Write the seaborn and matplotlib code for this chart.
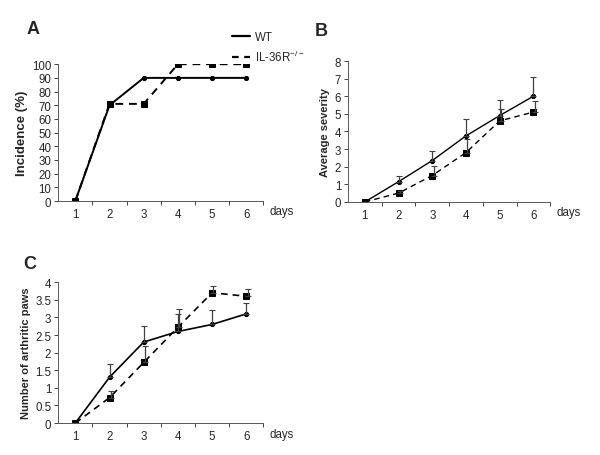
import numpy as np
import pandas as pd
import matplotlib
matplotlib.use('Agg')
import matplotlib.pyplot as plt
from matplotlib.lines import Line2D
import seaborn as sns

# Données
days = [1, 2, 3, 4, 5, 6]
day_labels = ['1', '2', '3', '4', '5', '6']

incidence_wt = [0, 70, 90, 90, 90, 90]
incidence_ko = [0, 71, 71, 100, 100, 100]

severity_wt = [0, 1.15, 2.35, 3.75, 4.9, 6.0]
severity_wt_err = [0, 0.35, 0.55, 0.95, 0.9, 1.1]
severity_ko = [0, 0.5, 1.5, 2.8, 4.6, 5.1]
severity_ko_err = [0, 0.1, 0.55, 0.8, 0.7, 0.65]

paws_wt = [0, 1.3, 2.3, 2.6, 2.8, 3.1]
paws_wt_err = [0, 0.37, 0.45, 0.5, 0.4, 0.3]
paws_ko = [0, 0.72, 1.72, 2.72, 3.7, 3.6]
paws_ko_err = [0, 0.18, 0.48, 0.53, 0.2, 0.2]

sns.set_style('white')
plt.rcParams['font.family'] = ['Liberation Sans', 'DejaVu Sans']

fig = plt.figure(figsize=(6, 4.56), dpi=100)
ax_a = fig.add_axes([0.097, 0.557, 0.342, 0.300])
ax_b = fig.add_axes([0.580, 0.555, 0.337, 0.309])
ax_c = fig.add_axes([0.097, 0.070, 0.342, 0.309])


def style_axis(ax, ylim, yticks, yfmt, ylabel, ylsize=8):
    ax.set_xlim(0.5, 6.5)
    ax.set_ylim(*ylim)
    ax.set_yticks(yticks)
    ax.set_yticklabels([yfmt(v) for v in yticks], fontsize=8.3)
    ax.set_xticks([1.5, 2.5, 3.5, 4.5, 5.5, 6.5])
    ax.set_xticklabels([])
    ax.set_xticks(days, minor=True)
    ax.set_xticklabels(day_labels, minor=True, fontsize=8.3)
    ax.tick_params(axis='x', which='major', length=3, width=0.6, direction='out', bottom=True)
    ax.tick_params(axis='x', which='minor', length=0, pad=5)
    ax.tick_params(axis='y', length=3, width=0.6, direction='out', left=True, pad=2)
    for s in ['top', 'right']:
        ax.spines[s].set_visible(False)
    for s in ['left', 'bottom']:
        ax.spines[s].set_linewidth(0.7)
        ax.spines[s].set_color('0.35')
    ax.set_xlabel('')
    ax.set_ylabel(ylabel, fontsize=ylsize, fontweight='bold', labelpad=3)
    ax.text(1.03, -0.075, 'days', transform=ax.transAxes, fontsize=8.3, va='center')


def draw(ax, wt, ko, wt_err=None, ko_err=None, lw=1.4):
    df = pd.DataFrame({'day': days + days,
                       'val': list(wt) + list(ko),
                       'groupe': ['WT'] * 6 + ['KO'] * 6})
    sns.lineplot(data=df[df.groupe == 'WT'], x='day', y='val', ax=ax, color='black',
                 lw=lw, marker='o', markersize=3, markeredgecolor='black', legend=False)
    sns.lineplot(data=df[df.groupe == 'KO'], x='day', y='val', ax=ax, color='black',
                 lw=lw, linestyle=(0, (4, 3)), marker='s', markersize=4,
                 markeredgecolor='black', legend=False)
    if wt_err is not None:
        ax.errorbar(days, wt, yerr=[np.zeros(6), wt_err], fmt='none', ecolor='0.25',
                    elinewidth=0.9, capsize=2, capthick=0.8)
        ax.errorbar(np.array(days) + 0.04, ko, yerr=[np.zeros(6), ko_err], fmt='none',
                    ecolor='0.25', elinewidth=0.9, capsize=2, capthick=0.8)


# Panneau A
draw(ax_a, incidence_wt, incidence_ko, lw=1.4)
style_axis(ax_a, (0, 100), list(range(0, 101, 10)), lambda v: str(v), 'Incidence (%)', ylsize=9.5)
handles = [Line2D([], [], color='black', lw=1.6),
           Line2D([], [], color='black', lw=1.6, linestyle=(0, (3, 2.5)))]
labels = ['WT', 'IL-36R$^{\\mathregular{-/-}}$']
fig.legend(handles, labels, loc='upper left', bbox_to_anchor=(0.37, 0.952), frameon=False,
           fontsize=8.3, handlelength=1.5, handletextpad=0.5, labelspacing=0.45)

# Panneau B
draw(ax_b, severity_wt, severity_ko, severity_wt_err, severity_ko_err, lw=1.0)
style_axis(ax_b, (0, 8), list(range(0, 9)), lambda v: str(v), 'Average severity')

# Panneau C
draw(ax_c, paws_wt, paws_ko, paws_wt_err, paws_ko_err, lw=1.2)
style_axis(ax_c, (0, 4), [0, 0.5, 1, 1.5, 2, 2.5, 3, 3.5, 4],
           lambda v: ('%g' % v), 'Number of arthritic paws')

# Lettres des panneaux
fig.text(0.045, 0.935, 'A', fontsize=13, fontweight='bold', va='center')
fig.text(0.525, 0.932, 'B', fontsize=13, fontweight='bold', va='center')
fig.text(0.038, 0.42, 'C', fontsize=13, fontweight='bold', va='center')

plt.savefig('out.png', dpi=100)
